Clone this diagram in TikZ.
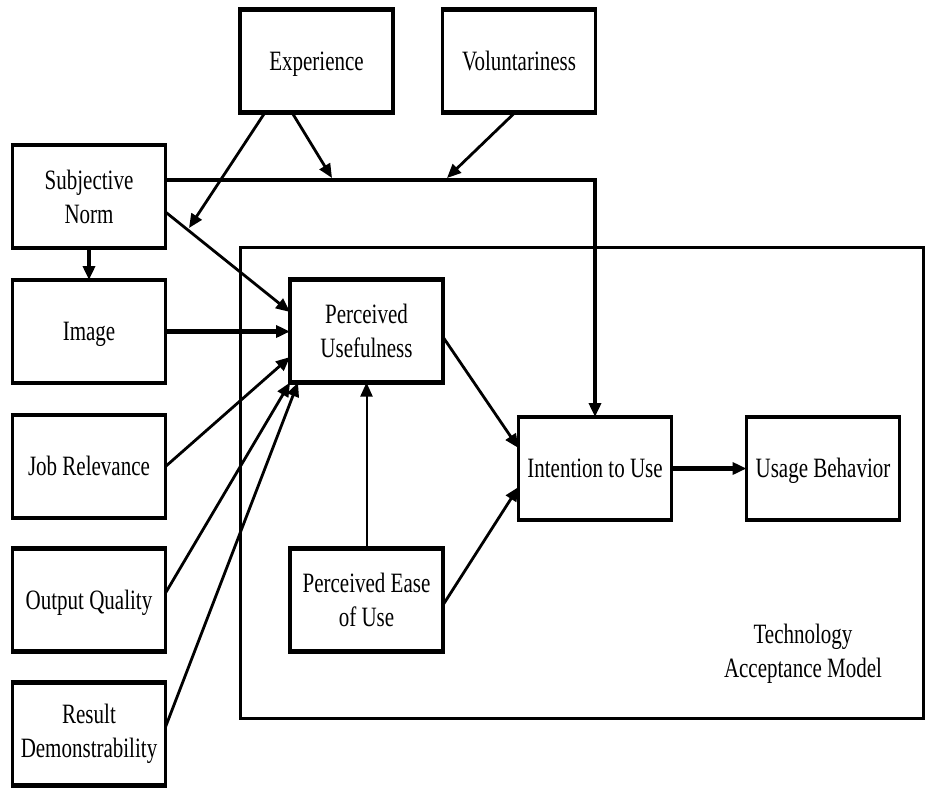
\documentclass[tikz,border=0pt]{standalone}
\usepackage{fontspec}
\setmainfont[FakeStretch=0.75]{Liberation Serif}
\usetikzlibrary{arrows.meta,calc}
\begin{document}
\begin{tikzpicture}[x=1pt,y=-1pt,
  every node/.style={font=\fontsize{28}{34}\selectfont, align=center, inner sep=0pt, outer sep=0pt},
  box/.style={minimum width=153pt, minimum height=103pt},
  one/.style={text height=18.5pt, text depth=0pt},
  tip/.style={-{Triangle[length=14pt,width=12pt]}},
  arr/.style={tip, line width=2.8pt},
  thinarr/.style={tip, line width=2pt},
  thickarr/.style={tip, line width=4.5pt},
  bigbox/.style={draw, line width=3pt}
]
\useasboundingbox (0,0) rectangle (926,788);

% big TAM box
\node[bigbox, minimum width=683pt, minimum height=471pt] (tam) at (581.5,482.5) {};
\node (tamlabel) at (803,654) {Technology\\Acceptance Model};

% boxes
\node[box,one] (exp)  at (316.5,61)  {Experience};
\node[box,one] (vol)  at (519,61)    {Voluntariness};
\node[box] (sn)   at (89,196.5)  {Subjective\\Norm};
\node[box,one] (img)  at (89,331.5)  {Image};
\node[box,one] (job)  at (89,466.5)  {Job Relevance};
\node[box,one] (out)  at (89,600)    {Output Quality};
\node[box] (res)  at (89,734)    {Result\\Demonstrability};
\node[box] (pu)   at (366.5,331) {Perceived\\Usefulness};
\node[box] (peou) at (366.5,600) {Perceived Ease\\of Use};
\node[box,one] (int)  at (595,468.5) {Intention to Use};
\node[box,one] (ub)   at (823,468.5) {Usage Behavior};

\foreach \n in {exp,vol,sn,img,job,out,res,pu,peou,int,ub}{
  \draw[line width=3.5pt] (\n.north west) -- (\n.south west) (\n.north east) -- (\n.south east);
  \draw[line width=4.5pt] ([xshift=-1.75pt]\n.north west) -- ([xshift=1.75pt]\n.north east)
                          ([xshift=-1.75pt]\n.south west) -- ([xshift=1.75pt]\n.south east);
}

% moderator target points
\coordinate (m1) at (189,228);
\coordinate (m2) at (332,178);
\coordinate (m3) at (447,178);

% connectors
\draw[tip, line width=3.5pt] (sn.south) -- (img.north);
\draw[arr] ([yshift=-15.5pt]sn.east) -- ([yshift=19pt]pu.west);
\draw[thickarr] (img.east) -- (img.east -| pu.west);
\draw[arr] (job.east) -- ([yshift=-26pt]pu.west);
\draw[arr] ([yshift=7pt]out.east) -- (pu.south west);
\draw[arr] ([yshift=7pt]res.east) -- ([xshift=8pt]pu.south west);
\draw[thinarr] (peou.north) -- (pu.south);
\draw[arr] ([yshift=-6pt]pu.east) -- ([yshift=20.5pt]int.west);
\draw[arr] ([yshift=-5pt]peou.east) -- ([yshift=-18.5pt]int.west);
\draw[thickarr] (int.east) -- (ub.west);
\draw[tip, line width=4pt] ([yshift=16.5pt]sn.east) -| (int.north);
\draw[arr] ([xshift=-51.5pt]exp.south) -- (m1);
\draw[arr] ([xshift=-24.5pt]exp.south) -- (m2);
\draw[arr] ([xshift=-4pt]vol.south) -- (m3);
\end{tikzpicture}
\end{document}
